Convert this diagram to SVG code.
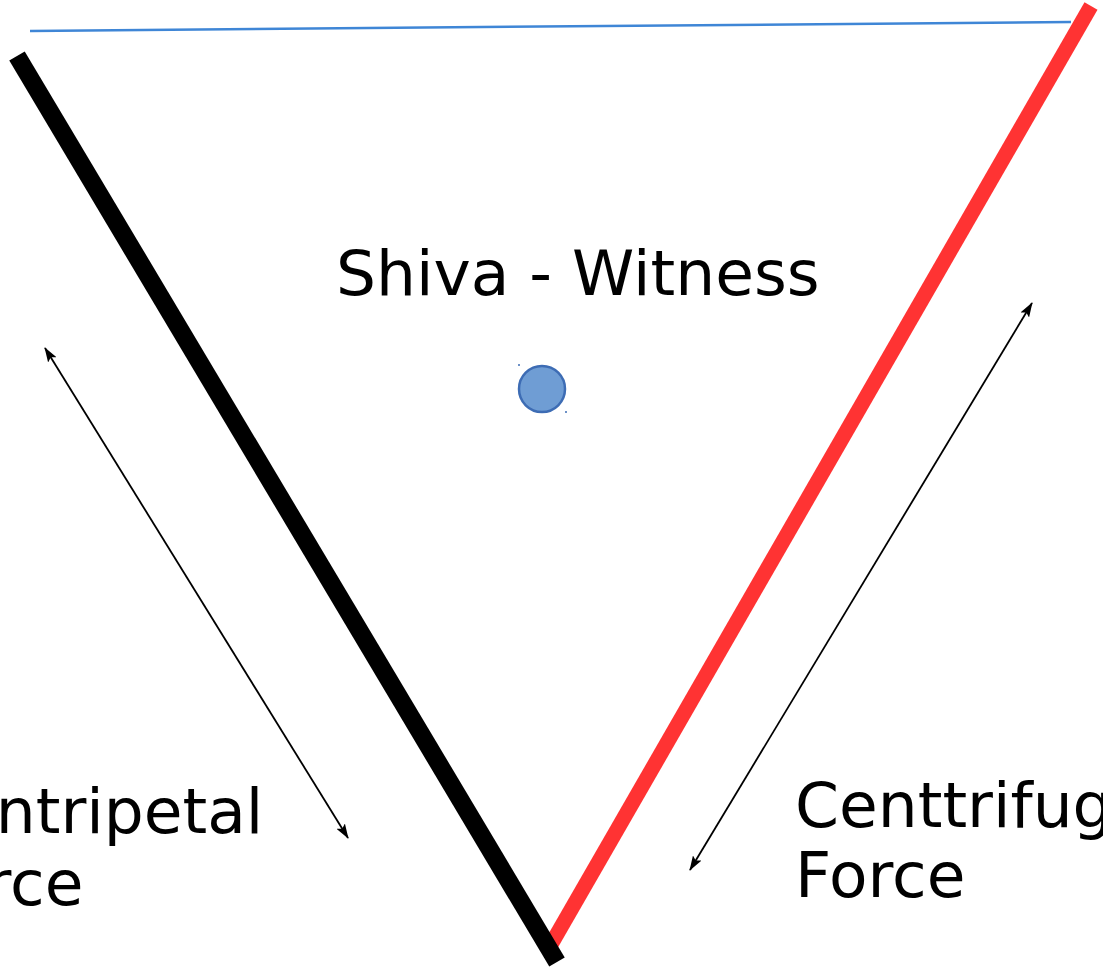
<svg xmlns="http://www.w3.org/2000/svg" width="1103" height="972" viewBox="0 0 1103 972">
<style>
.lbl{font-family:"DejaVu Sans",sans-serif;font-size:63px;fill:#000}
.arr{stroke:#000;stroke-width:1.8;fill:none;marker-start:url(#ah);marker-end:url(#ah)}
</style>
<defs>
<marker id="ah" viewBox="0 0 15 10" refX="14" refY="5" markerWidth="15" markerHeight="10" markerUnits="userSpaceOnUse" orient="auto-start-reverse">
<path d="M0,0 L15,5 L0,10 L3,5 z" fill="#000"/>
</marker>
</defs>
<rect width="1103" height="972" fill="#fff"/>
<g id="top-line"><line x1="30" y1="31" x2="1071" y2="22" stroke="#3f86d6" stroke-width="2.5"/></g>
<g id="red-line"><line x1="1091" y1="6" x2="549" y2="948" stroke="#ff3333" stroke-width="15"/></g>
<g id="black-line"><line x1="17" y1="56" x2="557" y2="962" stroke="#000" stroke-width="18"/></g>
<g id="witness">
<circle cx="542" cy="389" r="23" fill="#6f9dd4" stroke="#3d6cb4" stroke-width="2.5"/>
<circle cx="519" cy="365" r="1" fill="#3d6cb4"/>
<circle cx="566" cy="412" r="1" fill="#3d6cb4"/>
<text class="lbl" x="336" y="295">Shiva - Witness</text>
</g>
<g id="connectors">
<line class="arr" x1="45" y1="348" x2="348" y2="838"/>
<line class="arr" x1="1032" y1="303" x2="690" y2="870"/>
</g>
<g id="centripetal"><text class="lbl" x="-87" y="833">Centripetal<tspan x="-87" y="905">Force</tspan></text></g>
<g id="centrifugal"><text class="lbl" x="795" y="827">Centtrifugal<tspan x="795" y="897">Force</tspan></text></g>
</svg>
